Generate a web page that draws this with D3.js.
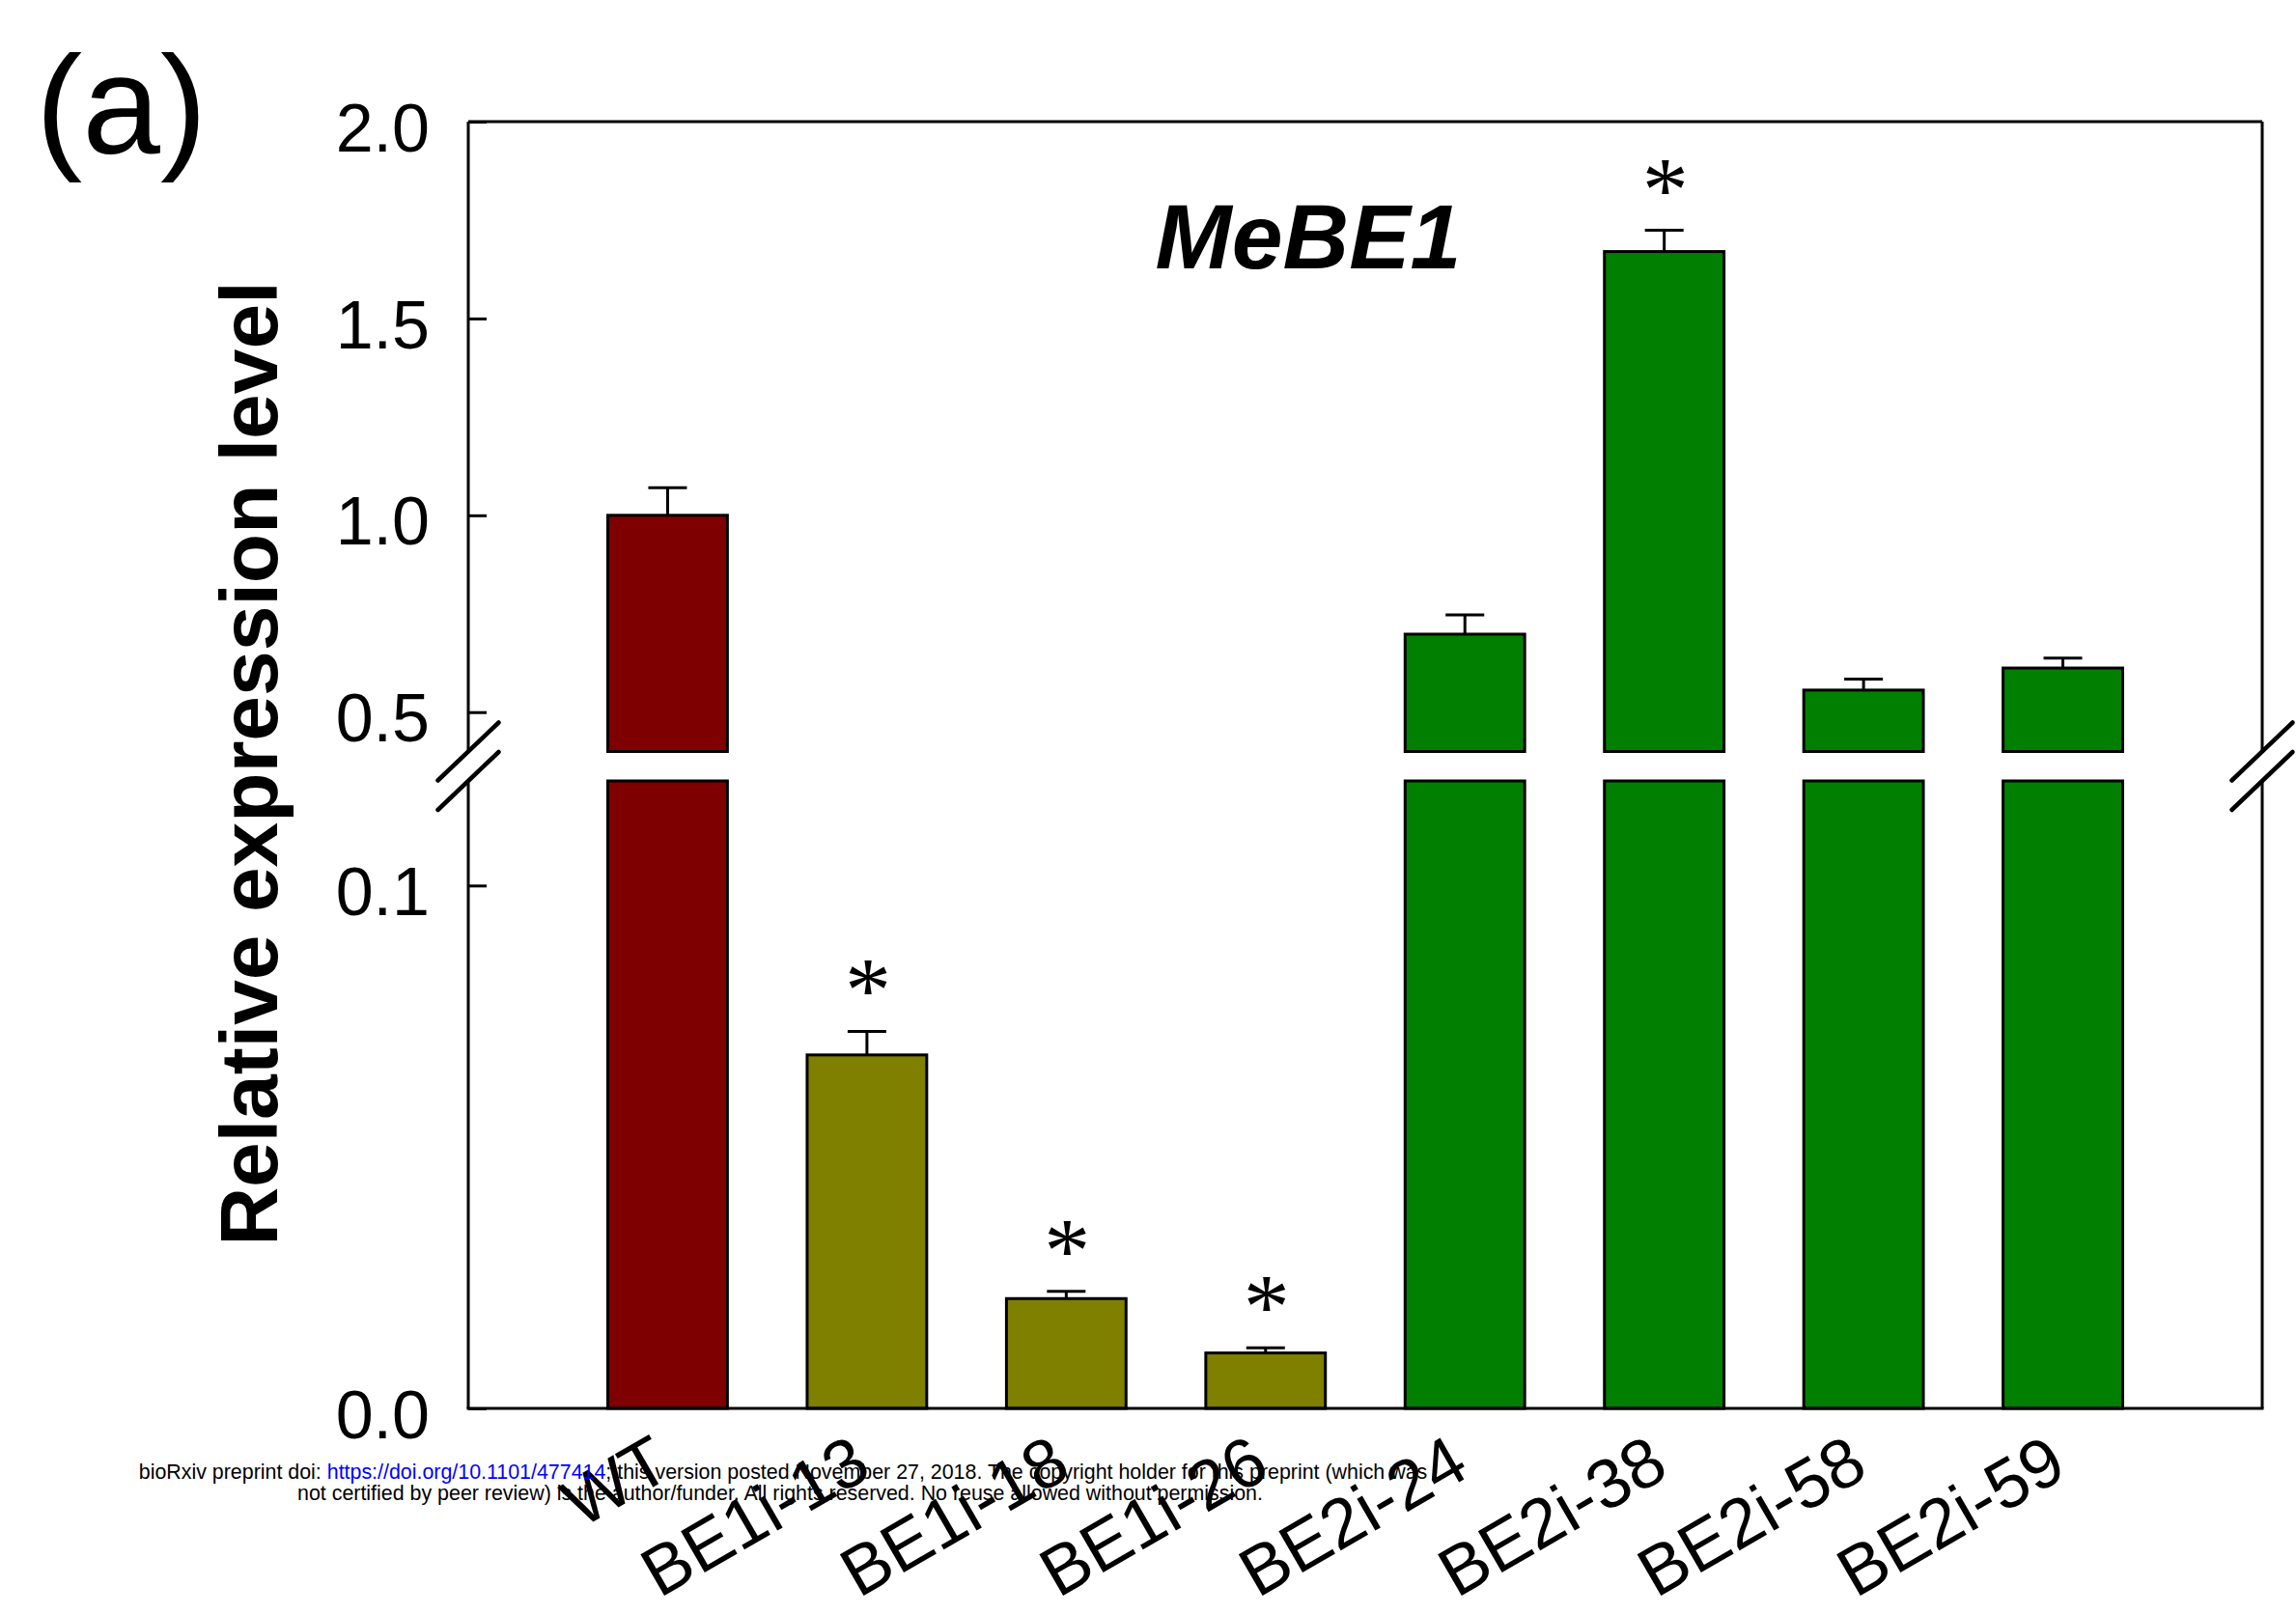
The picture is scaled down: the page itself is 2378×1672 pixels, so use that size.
<!DOCTYPE html>
<html>
<head>
<meta charset="utf-8">
<script src="https://cdn.jsdelivr.net/npm/d3@7"></script>
<style>
  html, body { margin: 0; padding: 0; background: #fff; }
  svg { display: block; }
</style>
</head>
<body>
<svg id="chart" width="2378" height="1672"></svg>
<script>
// ---- data ----
const categories = ["WT", "BE1i-13", "BE1i-18", "BE1i-26", "BE2i-24", "BE2i-38", "BE2i-58", "BE2i-59"];
const lines      = ["WT", "BE1i", "BE1i", "BE1i", "BE2i", "BE2i", "BE2i", "BE2i"];
const means      = [1.00, 0.0676, 0.0210, 0.0106, 0.698, 1.670, 0.556, 0.612];
const errors     = [0.070, 0.0045, 0.0014, 0.0010, 0.049, 0.054, 0.028, 0.025];
const significant = [false, true, true, true, false, true, false, false];
const upperTicks = [0.5, 1.0, 1.5, 2.0];
const lowerTicks = [0.0, 0.1];
const upperDomain = [0.4, 2.0];   // segment above the axis break
const lowerDomain = [0.0, 0.12];  // segment below the axis break

const fills = { "WT": "#7f0000", "BE1i": "#7f7f00", "BE2i": "#007f00" };

// ---- layout ----
const svg = d3.select("#chart");
const plotLeft = 485, plotRight = 2343, plotTop = 126, plotBottom = 1459;
const breakTop = 778.5, breakBottom = 809;   // pixel gap of the broken axis
const sansFont = "'Liberation Sans', Arial, Helvetica, sans-serif";

const slot = (plotRight - plotLeft) / 9;
const x = d3.scaleBand()
  .domain(categories)
  .range([plotLeft + slot / 2, plotRight - slot / 2])
  .paddingInner(0.4)
  .paddingOuter(0.2);

const yUpper = d3.scaleLinear().domain(upperDomain).range([breakTop, plotTop]);
const yLower = d3.scaleLinear().domain(lowerDomain).range([plotBottom, breakBottom]);

// value -> pixel across both segments
function yOf(v) {
  return v >= upperDomain[0] ? yUpper(v) : yLower(Math.min(v, lowerDomain[1]));
}

const rows = categories.map((c, i) => ({
  cat: c, line: lines[i], mean: means[i], err: errors[i], sig: significant[i]
}));

// ---- bars (split at the break) ----
const bars = svg.append("g").attr("stroke", "#000").attr("stroke-width", 3);
rows.forEach(d => {
  const x0 = x(d.cat), w = x.bandwidth();
  const lowTop = yLower(Math.min(d.mean, lowerDomain[1]));
  bars.append("rect")
    .attr("x", x0).attr("y", lowTop)
    .attr("width", w).attr("height", yLower(0) - lowTop)
    .attr("fill", fills[d.line]);
  if (d.mean > upperDomain[0]) {
    const upTop = yUpper(d.mean);
    bars.append("rect")
      .attr("x", x0).attr("y", upTop)
      .attr("width", w).attr("height", yUpper(upperDomain[0]) - upTop)
      .attr("fill", fills[d.line]);
  }
});

// ---- error bars (upper half only) ----
const errG = svg.append("g").attr("stroke", "#000").attr("stroke-width", 3).attr("fill", "none");
rows.forEach(d => {
  const cx = x(d.cat) + x.bandwidth() / 2;
  const y0 = yOf(d.mean), y1 = yOf(d.mean + d.err);
  errG.append("line").attr("x1", cx).attr("x2", cx).attr("y1", y0).attr("y2", y1);
  errG.append("line").attr("x1", cx - 20).attr("x2", cx + 20).attr("y1", y1).attr("y2", y1);
});

// ---- significance stars ----
svg.append("g").selectAll("text")
  .data(rows.filter(d => d.sig))
  .join("text")
  .attr("x", d => x(d.cat) + x.bandwidth() / 2 + 1)
  .attr("y", d => yOf(d.mean + d.err) - 10)
  .attr("text-anchor", "middle")
  .attr("font-family", "'Liberation Serif', 'Times New Roman', serif")
  .attr("font-size", 96)
  .attr("fill", "#000")
  .text("*");

// ---- frame with broken side axes ----
const frame = svg.append("g").attr("stroke", "#000").attr("stroke-width", 3).attr("fill", "none");
frame.append("line").attr("x1", plotLeft).attr("x2", plotRight).attr("y1", plotTop).attr("y2", plotTop);
frame.append("line").attr("x1", plotLeft - 1.5).attr("x2", plotRight + 1.5).attr("y1", plotBottom).attr("y2", plotBottom);
[plotLeft, plotRight].forEach(ax => {
  frame.append("line").attr("x1", ax).attr("x2", ax).attr("y1", plotTop).attr("y2", breakTop);
  frame.append("line").attr("x1", ax).attr("x2", ax).attr("y1", breakBottom).attr("y2", plotBottom);
  [breakTop, breakBottom].forEach(yb => {
    frame.append("line")
      .attr("x1", ax - 31.5).attr("y1", yb + 30)
      .attr("x2", ax + 31.5).attr("y2", yb - 30)
      .attr("stroke-width", 4.5).attr("stroke-linecap", "round");
  });
});

// ---- y axes (ticks point inward) ----
function styleAxis(g) {
  g.select(".domain").remove();
  g.selectAll(".tick line").attr("stroke", "#000").attr("stroke-width", 3);
  g.selectAll(".tick text")
    .attr("font-family", sansFont)
    .attr("font-size", 70)
    .attr("fill", "#000")
    .attr("dy", "0.43em");
}
svg.append("g")
  .attr("transform", `translate(${plotLeft},0)`)
  .call(d3.axisLeft(yUpper).tickValues(upperTicks).tickFormat(d3.format(".1f"))
        .tickSizeInner(-19).tickSizeOuter(0).tickPadding(40))
  .call(styleAxis);
svg.append("g")
  .attr("transform", `translate(${plotLeft},0)`)
  .call(d3.axisLeft(yLower).tickValues(lowerTicks).tickFormat(d3.format(".1f"))
        .tickSizeInner(-19).tickSizeOuter(0).tickPadding(40))
  .call(styleAxis);

// ---- category labels (rotated) ----
svg.append("g").selectAll("text")
  .data(categories)
  .join("text")
  .attr("transform", d => `translate(${x(d) + x.bandwidth() / 2 + 7},1528) rotate(-30)`)
  .attr("text-anchor", "end")
  .attr("font-family", sansFont)
  .attr("font-size", 72)
  .attr("fill", "#000")
  .text(d => d);

// ---- titles ----
svg.append("text")
  .attr("transform", "translate(287,791) rotate(-90)")
  .attr("text-anchor", "middle")
  .attr("font-family", sansFont)
  .attr("font-weight", "bold")
  .attr("font-size", 84)
  .attr("fill", "#000")
  .text("Relative expression level");

svg.append("text")
  .attr("x", 1355).attr("y", 278)
  .attr("text-anchor", "middle")
  .attr("font-family", sansFont)
  .attr("font-weight", "bold")
  .attr("font-style", "italic")
  .attr("font-size", 95)
  .attr("fill", "#000")
  .text("MeBE1");

svg.append("text")
  .attr("x", 37).attr("y", 159)
  .attr("font-family", sansFont)
  .attr("font-size", 145)
  .attr("fill", "#000")
  .text("(a)");

// ---- preprint notice ----
const note = svg.append("g")
  .attr("font-family", sansFont)
  .attr("font-size", 21.4)
  .attr("fill", "#000")
  .attr("text-anchor", "middle");
const l1 = note.append("text").attr("x", 811).attr("y", 1532);
l1.append("tspan").text("bioRxiv preprint doi: ");
l1.append("tspan").attr("fill", "#0000ff").text("https://doi.org/10.1101/477414");
l1.append("tspan").text("; this version posted November 27, 2018. The copyright holder for this preprint (which was");
note.append("text").attr("x", 808).attr("y", 1554)
  .text("not certified by peer review) is the author/funder. All rights reserved. No reuse allowed without permission.");
</script>
</body>
</html>
